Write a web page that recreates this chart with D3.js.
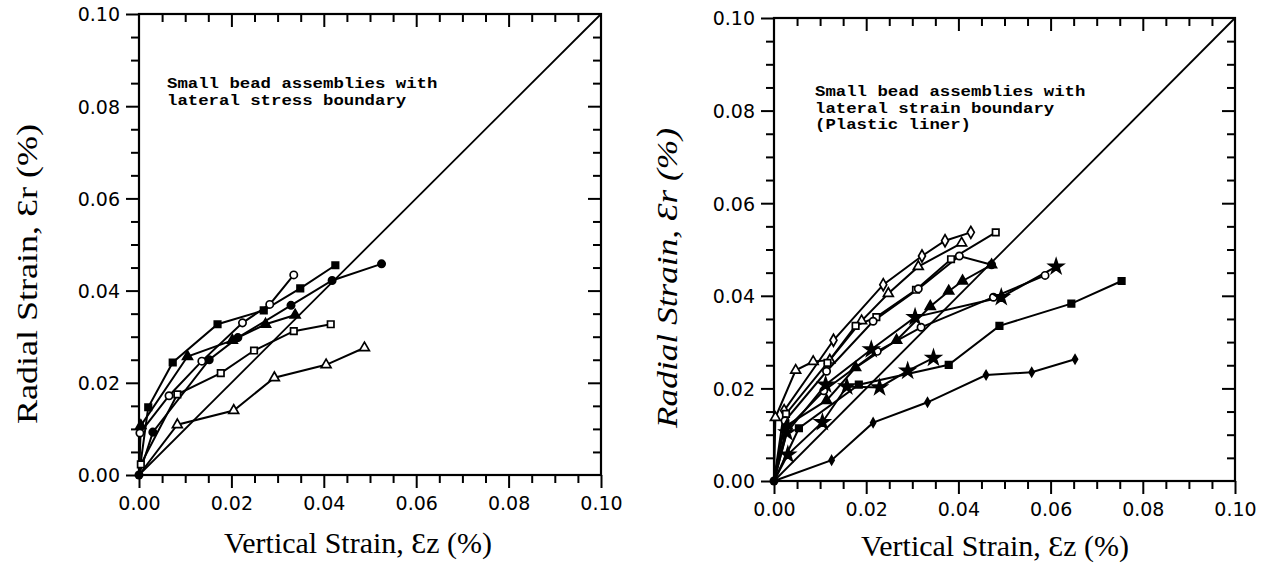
<!DOCTYPE html>
<html><head><meta charset="utf-8">
<script src="https://cdn.jsdelivr.net/npm/d3@7"></script>
<style>body{margin:0;background:#fff}</style>
</head><body><svg id="c" width="1264" height="566" xmlns="http://www.w3.org/2000/svg"></svg>
<script>
// ---------- shared axis data ----------
const axisDomain = [0, 0.10];
const majorTicks = [0, 0.02, 0.04, 0.06, 0.08, 0.10];
const majorTickLabels = ["0.00", "0.02", "0.04", "0.06", "0.08", "0.10"];
const minorTicks = [0.005,0.01,0.015,0.025,0.03,0.035,0.045,0.05,0.055,0.065,0.07,0.075,0.085,0.09,0.095];
const xTitle = "Vertical Strain, \u0190z (%)";
const yTitle = "Radial Strain, \u0190r (%)";

// ---------- left panel: lateral stress boundary ----------
const stressNote = ["Small bead assemblies with", "lateral stress boundary"];
const stressFilledSquare = [[0,0],[0.002,0.0147],[0.0073,0.0244],[0.017,0.0327],[0.027,0.0357],[0.0349,0.0405],[0.0425,0.0455]];
const stressOpenCircle   = [[0,0],[0.0002,0.0091],[0.0065,0.0172],[0.0136,0.0247],[0.0224,0.033],[0.0283,0.037],[0.0335,0.0434]];
const stressFilledCircle = [[0,0],[0.003,0.0093],[0.0152,0.025],[0.0214,0.0298],[0.0329,0.0368],[0.0418,0.0422],[0.0525,0.0458]];
const stressTriangleA    = [[0,0],[0.0004,0.0107],[0.0105,0.0257],[0.0202,0.0292],[0.0274,0.0327],[0.0338,0.0347]];
const stressOpenSquare   = [[0,0],[0.0004,0.0023],[0.0083,0.0175],[0.0177,0.0221],[0.0249,0.027],[0.0335,0.0312],[0.0415,0.0327]];
const stressTriangleB    = [[0,0],[0.0083,0.0109],[0.0205,0.014],[0.0293,0.0211],[0.0405,0.0239],[0.0488,0.0276]];

// ---------- right panel: lateral strain boundary ----------
const strainNote = ["Small bead assemblies with", "lateral strain boundary", "(Plastic liner)"];
const strainSmallDot     = [[0,0],[0.0125,0.0045],[0.0215,0.0126],[0.0333,0.017],[0.046,0.0229],[0.0559,0.0235],[0.0653,0.0263]];
const strainFilledSquare = [[0,0],[0.0054,0.0114],[0.0184,0.0208],[0.0379,0.0251],[0.0489,0.0335],[0.0645,0.0383],[0.0754,0.0432]];
const strainStarLow      = [[0,0],[0.003,0.0057],[0.0105,0.0127],[0.0158,0.0204],[0.0229,0.0202],[0.029,0.0238],[0.0346,0.0266]];
const strainDiamond      = [[0,0],[0.0022,0.0152],[0.0129,0.0304],[0.0237,0.0424],[0.0321,0.0486],[0.0371,0.0519],[0.0427,0.0537]];
const strainTriangle     = [[0,0],[0.0003,0.0137],[0.0047,0.0239],[0.0085,0.0258],[0.0121,0.0261],[0.019,0.0346],[0.0248,0.0405],[0.0313,0.0463],[0.0407,0.0514]];
const strainOpenSquare   = [[0,0],[0.0026,0.0145],[0.0116,0.0255],[0.0177,0.0335],[0.0222,0.0354],[0.0308,0.0413],[0.0384,0.0479],[0.0481,0.0537]];
const strainHexagon      = [[0,0],[0.0024,0.013],[0.0114,0.0237],[0.0215,0.0345],[0.0313,0.0415],[0.0402,0.0486],[0.0472,0.0467]];
const strainOpenCircle   = [[0,0],[0.003,0.0115],[0.0108,0.0195],[0.0224,0.028],[0.0319,0.0332],[0.0476,0.0397],[0.0588,0.0444]];
const strainStarHigh     = [[0,0],[0.0028,0.0105],[0.0112,0.0208],[0.0211,0.0284],[0.0306,0.0354],[0.0493,0.0397],[0.0612,0.0463]];
const strainFilledTri    = [[0,0],[0.0028,0.012],[0.0114,0.0174],[0.0177,0.0245],[0.0266,0.0304],[0.0339,0.0377],[0.0379,0.041],[0.0409,0.0432],[0.0472,0.0467]];

const stressSeries = [
  {pts: stressFilledSquare, sym: d3.symbolSquare, fill: true},
  {pts: stressOpenCircle, sym: d3.symbolCircle, fill: false},
  {pts: stressFilledCircle, sym: d3.symbolCircle, fill: true},
  {pts: stressTriangleA, sym: d3.symbolTriangle, fill: true},
  {pts: stressOpenSquare, sym: d3.symbolSquare, fill: false},
  {pts: stressTriangleB, sym: d3.symbolTriangle, fill: false}
];
const strainSeries = [
  {pts: strainSmallDot, sym: d3.symbolDiamond, fill: true, small: true},
  {pts: strainFilledSquare, sym: d3.symbolSquare, fill: true},
  {pts: strainStarLow, sym: d3.symbolStar, fill: true},
  {pts: strainDiamond, sym: d3.symbolDiamond, fill: false},
  {pts: strainTriangle, sym: d3.symbolTriangle, fill: false},
  {pts: strainOpenSquare, sym: d3.symbolSquare, fill: false},
  {pts: strainHexagon, sym: d3.symbolCircle, fill: false},
  {pts: strainOpenCircle, sym: d3.symbolCircle, fill: false},
  {pts: strainStarHigh, sym: d3.symbolStar, fill: true},
  {pts: strainFilledTri, sym: d3.symbolTriangle, fill: true}
];

const svg = d3.select("#c");
svg.append("rect").attr("width",1264).attr("height",566).attr("fill","#fff");

function panel(cfg) {
  const x = d3.scaleLinear().domain(axisDomain).range(cfg.xr);
  const y = d3.scaleLinear().domain(axisDomain).range(cfg.yr);
  const g = svg.append("g");
  const strip = a => a.call(s => s.select(".domain").remove());
  const tickStyle = s => s.selectAll("line").attr("stroke","#000").attr("stroke-width",2);

  // bottom (outward ticks)
  g.append("g").attr("transform",`translate(0,${cfg.yr[0]})`)
    .call(d3.axisBottom(x).tickValues(minorTicks).tickSize(8).tickFormat("")).call(strip).call(tickStyle);
  const bl = g.append("g").attr("transform",`translate(0,${cfg.yr[0]})`)
    .call(d3.axisBottom(x).tickValues(majorTicks).tickSize(13).tickFormat((d,i)=>majorTickLabels[i])).call(strip).call(tickStyle);
  bl.selectAll("text").attr("y",35).attr("dy",0).attr("font-family","DejaVu Sans").attr("font-size",19).attr("fill","#000");
  // left (outward)
  g.append("g").attr("transform",`translate(${cfg.xr[0]},0)`)
    .call(d3.axisLeft(y).tickValues(minorTicks).tickSize(8).tickFormat("")).call(strip).call(tickStyle);
  const ll = g.append("g").attr("transform",`translate(${cfg.xr[0]},0)`)
    .call(d3.axisLeft(y).tickValues(majorTicks).tickSize(13).tickFormat((d,i)=>majorTickLabels[i])).call(strip).call(tickStyle);
  ll.selectAll("text").attr("x",-19).attr("dy","0.36em").attr("font-family","DejaVu Sans").attr("font-size",19).attr("fill","#000");
  // top (inward)
  g.append("g").attr("transform",`translate(0,${cfg.yr[1]})`)
    .call(d3.axisBottom(x).tickValues(minorTicks).tickSize(8).tickFormat("")).call(strip).call(tickStyle);
  g.append("g").attr("transform",`translate(0,${cfg.yr[1]})`)
    .call(d3.axisBottom(x).tickValues(majorTicks.slice(1,5)).tickSize(13).tickFormat("")).call(strip).call(tickStyle);
  // right (inward)
  g.append("g").attr("transform",`translate(${cfg.xr[1]},0)`)
    .call(d3.axisLeft(y).tickValues(minorTicks).tickSize(8).tickFormat("")).call(strip).call(tickStyle);
  g.append("g").attr("transform",`translate(${cfg.xr[1]},0)`)
    .call(d3.axisLeft(y).tickValues(majorTicks.slice(1,5)).tickSize(13).tickFormat("")).call(strip).call(tickStyle);

  // frame
  g.append("rect").attr("x",cfg.xr[0]).attr("y",cfg.yr[1])
    .attr("width",cfg.xr[1]-cfg.xr[0]).attr("height",cfg.yr[0]-cfg.yr[1])
    .attr("fill","none").attr("stroke","#000").attr("stroke-width",2.2);

  // 1:1 line
  g.append("line").attr("x1",x(0)).attr("y1",y(0)).attr("x2",x(0.1)).attr("y2",y(0.1))
    .attr("stroke","#000").attr("stroke-width",1.8);

  const line = d3.line().x(d=>x(d[0])).y(d=>y(d[1]));
  cfg.series.forEach(s => {
    g.append("path").attr("d",line(s.pts)).attr("fill","none").attr("stroke","#000").attr("stroke-width",2);
  });
  cfg.series.forEach(s => {
    const sym = d3.symbol().type(s.sym).size(s.small ? 22 : (s.sym===d3.symbolStar ? 64 : 42));
    g.selectAll(null).data(s.pts.slice(1)).join("path")
      .attr("transform",d=>`translate(${x(d[0])},${y(d[1])})`)
      .attr("d",sym).attr("fill",s.fill?"#000":"#fff").attr("stroke","#000").attr("stroke-width",1.7);
  });
  g.append("circle").attr("cx",x(0)).attr("cy",y(0)).attr("r",4.5).attr("fill","#000");

  // titles
  g.append("text").attr("x",cfg.xtx).attr("y",cfg.xty).attr("text-anchor","middle")
    .attr("font-family","Liberation Serif, DejaVu Serif").attr("font-size",29)
    .attr("textLength",cfg.xtl).attr("lengthAdjust","spacingAndGlyphs").text(xTitle);
  g.append("text").attr("transform",`translate(${cfg.ytx},${cfg.yty}) rotate(-90)`).attr("text-anchor","middle")
    .attr("font-family","Liberation Serif, DejaVu Serif").attr("font-size",29)
    .attr("font-style",cfg.yItalic?"italic":"normal")
    .attr("textLength",cfg.ytl).attr("lengthAdjust","spacingAndGlyphs").text(yTitle);

  // annotation (one text element per line, stretched to the reference width)
  cfg.note.forEach((ln,i) => {
    g.append("text").attr("x",cfg.nx).attr("y",cfg.ny + i*cfg.nd)
      .attr("font-family","Liberation Mono, Courier New, monospace")
      .attr("font-weight","bold").attr("font-size",14.5)
      .attr("textLength", ln.length * 10.4).attr("lengthAdjust","spacingAndGlyphs")
      .text(ln);
  });
}

panel({xr:[139,601], yr:[475,14], series:stressSeries, note:stressNote, nx:167, ny:88, nd:17,
       xtx:358, xty:553, xtl:268, ytx:37, yty:274, ytl:300, yItalic:false});
panel({xr:[774,1235], yr:[481,18], series:strainSeries, note:strainNote, nx:815, ny:96, nd:16.5,
       xtx:995, xty:556, xtl:268, ytx:677, yty:278, ytl:300, yItalic:true});
</script></body></html>
